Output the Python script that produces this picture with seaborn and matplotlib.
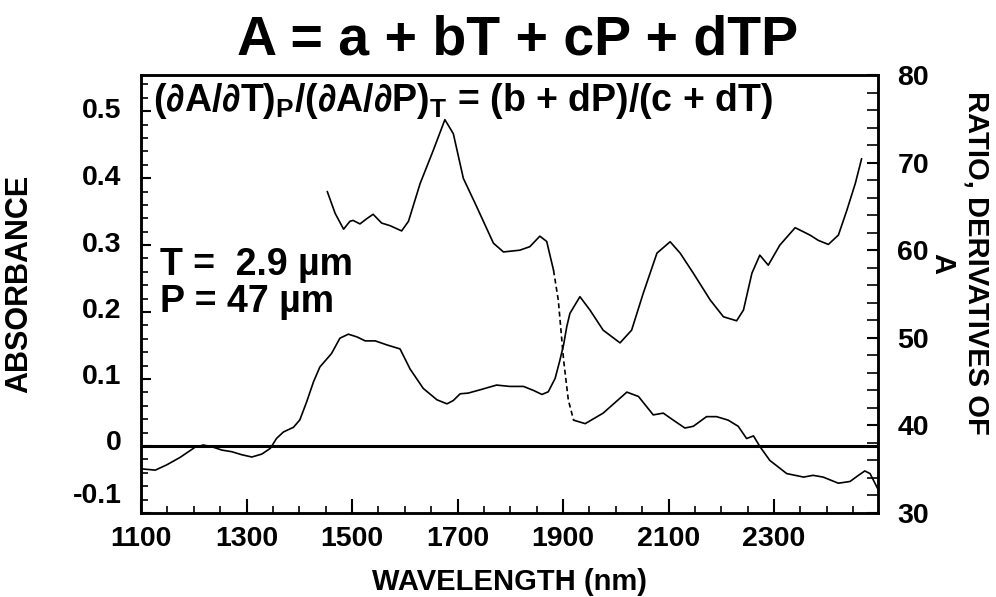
import matplotlib
matplotlib.use("Agg")
import matplotlib.pyplot as plt
import matplotlib.transforms as mtransforms
from matplotlib.ticker import MultipleLocator, FixedLocator
import seaborn as sns
import pandas as pd
import numpy as np

# absorbance spectrum (left axis)
abs_wl = [1100, 1127, 1149, 1174, 1202, 1218, 1234, 1253, 1272, 1291, 1310, 1329, 1345,
          1357, 1370, 1389, 1401, 1414, 1427, 1439, 1461, 1477, 1493, 1509, 1525, 1544,
          1566, 1591, 1610, 1635, 1661, 1680, 1692, 1705, 1720, 1743, 1774, 1799, 1825,
          1844, 1860, 1872, 1885, 1894, 1901, 1907, 1913, 1932, 1951, 1976, 2008, 2030,
          2052, 2078, 2103, 2122, 2147, 2179, 2204, 2229, 2242, 2258, 2273, 2289, 2311,
          2340, 2368, 2384, 2403, 2422, 2438, 2454, 2466]
abs_val = [-0.034, -0.036, -0.028, -0.017, -0.002, 0.0015, -0.001, -0.006, -0.0085, -0.013,
           -0.0164, -0.012, -0.0035, 0.0115, 0.021, 0.028, 0.039, 0.066, 0.096, 0.118,
           0.138, 0.161, 0.167, 0.163, 0.157, 0.157, 0.151, 0.145, 0.115, 0.086, 0.069,
           0.063, 0.068, 0.078, 0.079, 0.084, 0.091, 0.089, 0.089, 0.083, 0.077, 0.081,
           0.101, 0.128, 0.151, 0.178, 0.198, 0.223, 0.203, 0.173, 0.154, 0.173, 0.228,
           0.288, 0.305, 0.288, 0.258, 0.218, 0.193, 0.187, 0.203, 0.258, 0.285, 0.270,
           0.300, 0.326, 0.315, 0.307, 0.301, 0.315, 0.352, 0.392, 0.429]

# ratio of derivatives (right axis)
ratio_wl = [1453, 1468, 1484, 1496, 1502, 1515, 1528, 1540, 1556, 1572, 1594, 1607, 1629,
            1654, 1676, 1692, 1711, 1736, 1768, 1787, 1818, 1837, 1856, 1869, 1882, 1891,
            1901, 1910, 1920, 1942, 1976, 2021, 2043, 2071, 2090, 2109, 2131, 2147, 2172,
            2191, 2213, 2232, 2248, 2261, 2273, 2292, 2324, 2356, 2374, 2393, 2422, 2444,
            2460, 2472, 2482, 2498]
ratio_val = [66.7, 64.2, 62.4, 63.3, 63.4, 63.0, 63.6, 64.1, 63.1, 62.8, 62.2, 63.3, 67.6,
             71.4, 74.9, 73.3, 68.2, 65.0, 60.8, 59.8, 60.0, 60.4, 61.6, 61.0, 57.7, 54.3,
             47.5, 42.9, 40.6, 40.2, 41.4, 43.8, 43.3, 41.2, 41.4, 40.6, 39.7, 39.9, 41.0,
             41.0, 40.6, 39.9, 38.5, 38.8, 37.6, 36.0, 34.5, 34.1, 34.3, 34.1, 33.4, 33.6,
             34.3, 34.8, 34.5, 32.6]
dash_from, dash_to = 1882, 1920

x_ticks = [1100, 1300, 1500, 1700, 1900, 2100, 2300]
left_ticks = [-0.1, 0, 0.1, 0.2, 0.3, 0.4, 0.5]
left_labels = ["-0.1", "0", "0.1", "0.2", "0.3", "0.4", "0.5"]
right_ticks = [30, 40, 50, 60, 70, 80]

sns.set_style("ticks")
plt.rcParams["font.family"] = ["Liberation Sans", "DejaVu Sans"]
plt.rcParams["font.weight"] = "bold"
for key in ["text.color", "axes.labelcolor", "xtick.color", "ytick.color", "axes.edgecolor"]:
    plt.rcParams[key] = "black"
plt.rcParams["mathtext.fontset"] = "custom"
plt.rcParams["mathtext.rm"] = "Liberation Sans:bold"
plt.rcParams["mathtext.sf"] = "Liberation Sans:bold"
plt.rcParams["mathtext.bf"] = "Liberation Sans:bold"
plt.rcParams["mathtext.it"] = "Liberation Sans:bold"

fig = plt.figure(figsize=(9.96, 5.97), dpi=100)
ax = fig.add_axes([0.1416, 0.1407, 0.7399, 0.7337])
ax2 = ax.twinx()

df_abs = pd.DataFrame({"wl": abs_wl, "A": abs_val})
sns.lineplot(data=df_abs, x="wl", y="A", ax=ax, color="black", lw=1.2, estimator=None)
ax.axhline(0, color="black", lw=2.2)

df_r = pd.DataFrame({"wl": ratio_wl, "R": ratio_val})
seg1 = df_r[df_r.wl <= dash_from]
seg2 = df_r[(df_r.wl >= dash_from) & (df_r.wl <= dash_to)]
seg3 = df_r[df_r.wl >= dash_to]
for seg, ls in [(seg1, "-"), (seg2, (0, (3, 2))), (seg3, "-")]:
    sns.lineplot(data=seg, x="wl", y="R", ax=ax2, color="black", lw=1.2,
                 estimator=None, linestyle=ls)

ax.set_xlim(1100, 2497)
ax.set_ylim(-0.1, 0.554)
ax2.set_ylim(30, 80)

ax.xaxis.set_major_locator(FixedLocator(x_ticks))
ax.xaxis.set_minor_locator(MultipleLocator(50))
ax.set_yticks(left_ticks)
ax.set_yticklabels(left_labels)
ax.yaxis.set_minor_locator(MultipleLocator(0.02))
ax2.set_yticks(right_ticks)
ax2.yaxis.set_minor_locator(MultipleLocator(2))

ax.tick_params(axis="x", which="major", direction="in", length=10, width=1.5,
               labelsize=20.5, pad=9, top=False)
ax.tick_params(axis="x", which="minor", direction="in", length=5, width=1.2, top=False)
ax.tick_params(axis="y", which="major", direction="in", length=7, width=1.5,
               labelsize=20.5, pad=14)
ax.tick_params(axis="y", which="minor", direction="in", length=5, width=1.2)
ax2.tick_params(axis="y", which="major", direction="in", length=8, width=1.5,
                labelsize=20.5, pad=14)
ax2.tick_params(axis="y", which="minor", direction="in", length=8, width=1.2)

for a in (ax, ax2):
    for sp in a.spines.values():
        sp.set_linewidth(1.8)
        sp.set_color("black")

ax.set_xlabel("WAVELENGTH (nm)", fontsize=21, fontweight="bold", labelpad=12)
ax.set_ylabel("ABSORBANCE", fontsize=22, fontweight="bold")
ax.yaxis.set_label_coords(-0.145, 0.523)
ax2.set_ylabel("")
fig.text(0.963, 0.559, "RATIO, DERIVATIVES OF\nA", fontsize=21, fontweight="bold",
         rotation=-90, ha="center", va="center", multialignment="center", linespacing=1.3)

# left tick labels sit a little above their ticks; the bottom one well clear of the x labels
for lbl, up in zip(ax.get_yticklabels(), [0.2, 0.06, 0.05, 0.04, 0.03, 0.03, 0.03]):
    lbl.set_transform(lbl.get_transform() + mtransforms.ScaledTranslation(0, up, fig.dpi_scale_trans))

fig.text(0.52, 0.908, "A = a + bT + cP + dTP", fontsize=40, fontweight="bold",
         ha="center", va="baseline")
ax.text(0.0163, 0.918, r"(∂A/∂T)$_\mathsf{P}$/(∂A/∂P)$_\mathsf{T}$ = (b + dP)/(c + dT)",
        transform=ax.transAxes, fontsize=27, fontweight="bold", va="baseline", ha="left")
ax.text(0.0258, 0.543, "T =  2.9 µm", transform=ax.transAxes,
        fontsize=27, fontweight="bold", va="baseline", ha="left")
ax.text(0.0258, 0.459, "P = 47 µm", transform=ax.transAxes,
        fontsize=27, fontweight="bold", va="baseline", ha="left")

fig.savefig("out.png", dpi=100)
